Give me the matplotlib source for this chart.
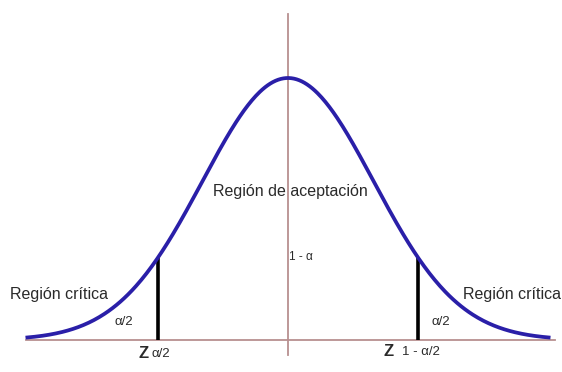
import numpy as np
import matplotlib
matplotlib.use("Agg")
import matplotlib.pyplot as plt

# normal curve parameters (standard normal)
mean = 0.0
sd = 1.0
z_range = [-3.07, 3.07]
z_crit = 1.52

labels_region = ["Región crítica", "Región de aceptación", "Región crítica"]
label_area_mid = "1 - α"
label_area_tail = "α/2"

plt.rcParams['font.family'] = ['Liberation Sans', 'DejaVu Sans']

fig = plt.figure(figsize=(5.62, 3.72), dpi=100)
ax = fig.add_axes([0, 0, 1, 1])

z = np.linspace(z_range[0], z_range[1], 400)
pdf = np.exp(-0.5 * ((z - mean) / sd) ** 2) / (sd * np.sqrt(2 * np.pi))
peak = 1 / (sd * np.sqrt(2 * np.pi))

axis_col = "#b89090"
# baseline and vertical axis
ax.plot([z_range[0], z_range[1] + 0.05], [0, 0], color=axis_col, lw=1.3, zorder=1)
ax.plot([0, 0], [-0.0228, 0.496], color=axis_col, lw=1.3, zorder=1)

# critical lines
for zc in (-z_crit, z_crit):
    h = np.exp(-0.5 * (zc / sd) ** 2) / (sd * np.sqrt(2 * np.pi))
    ax.plot([zc, zc], [0, h], color="black", lw=2.6, zorder=2, solid_capstyle="butt")

ax.plot(z, pdf, color="#2a1fa8", lw=2.7, zorder=3, solid_capstyle="butt")

# px -> data helpers: x px = 288 + 85.5*z, y px = 340 - 262*(y/peak)
ax.set_xlim((0 - 288) / 85.5, (562 - 288) / 85.5)
ax.set_ylim(-(372 - 340) / 262 * peak, 340 / 262 * peak)
ax.axis("off")

def py(p):
    return (340 - p) / 262 * peak

def px(p):
    return (p - 288) / 85.5

txt = "#2a2a2a"
ax.text(px(10), py(294), labels_region[0], fontsize=11.5, color=txt, ha="left", va="center")
ax.text(px(561), py(294), labels_region[2], fontsize=11.5, color=txt, ha="right", va="center")
ax.text(px(290), py(191), labels_region[1], fontsize=11.5, color=txt, ha="center", va="center")
ax.text(px(289), py(257), label_area_mid, fontsize=8.5, color=txt, ha="left", va="center")
ax.text(px(115), py(322), label_area_tail, fontsize=9.5, color=txt, ha="left", va="center")
ax.text(px(432), py(322), label_area_tail, fontsize=9.5, color=txt, ha="left", va="center")
ax.text(px(139), py(353), "Z", fontsize=12, color=txt, ha="left", va="center", fontweight="bold")
ax.text(px(152), py(354), "α/2", fontsize=9.5, color=txt, ha="left", va="center")
ax.text(px(384), py(351), "Z", fontsize=12, color=txt, ha="left", va="center", fontweight="bold")
ax.text(px(402), py(352), "1 - α/2", fontsize=9.5, color=txt, ha="left", va="center")

fig.savefig("out.png", dpi=100)
